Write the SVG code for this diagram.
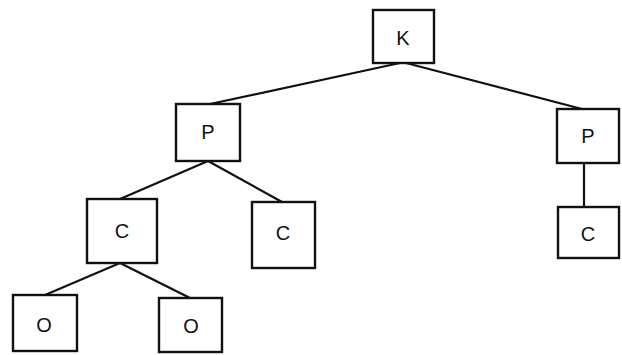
<svg xmlns="http://www.w3.org/2000/svg" width="622" height="355" viewBox="0 0 622 355">
<style>
.box{fill:#fff;stroke:#111;stroke-width:2.4}
.lbl{font-family:"Liberation Sans",Arial,sans-serif;font-size:20px;fill:#111;text-anchor:middle;dominant-baseline:central}
.edge{stroke:#111;stroke-width:2.2;fill:none}
</style>
<rect width="622" height="355" fill="#fff"/>
<g id="connectors">
<line class="edge" x1="400" y1="63" x2="210" y2="104"/>
<line class="edge" x1="406" y1="63" x2="582" y2="109"/>
<line class="edge" x1="208" y1="161" x2="120" y2="199"/>
<line class="edge" x1="208" y1="161" x2="282" y2="202"/>
<line class="edge" x1="584" y1="163" x2="584" y2="207"/>
<line class="edge" x1="120" y1="263" x2="45" y2="295"/>
<line class="edge" x1="120" y1="263" x2="190" y2="298"/>
</g>
<g id="node-K"><rect class="box" x="373" y="10" width="61" height="53"/><text class="lbl" x="403" y="38">K</text></g>
<g id="node-P1"><rect class="box" x="176" y="104" width="64" height="57"/><text class="lbl" x="208" y="132">P</text></g>
<g id="node-P2"><rect class="box" x="557" y="109" width="62" height="54"/><text class="lbl" x="588" y="136">P</text></g>
<g id="node-C1"><rect class="box" x="87" y="199" width="70" height="64"/><text class="lbl" x="122" y="231">C</text></g>
<g id="node-C2"><rect class="box" x="252" y="202" width="63" height="66"/><text class="lbl" x="283" y="233">C</text></g>
<g id="node-C3"><rect class="box" x="558" y="207" width="61" height="51"/><text class="lbl" x="588" y="234">C</text></g>
<g id="node-O1"><rect class="box" x="13" y="295" width="64" height="56"/><text class="lbl" x="44" y="325">O</text></g>
<g id="node-O2"><rect class="box" x="159" y="298" width="63" height="54"/><text class="lbl" x="191" y="326">O</text></g>
</svg>
